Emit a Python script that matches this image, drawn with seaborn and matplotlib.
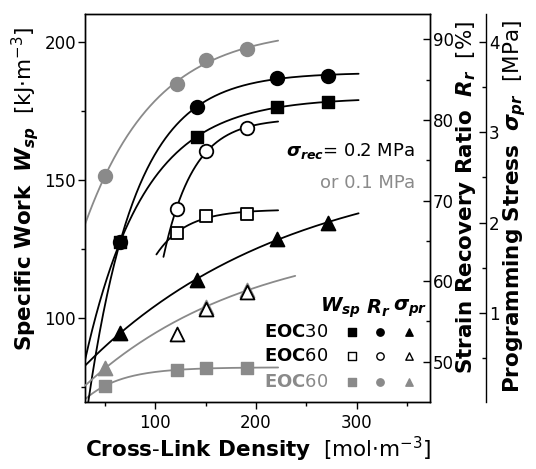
import numpy as np
import matplotlib
matplotlib.use("Agg")
import matplotlib.pyplot as plt
import seaborn as sns

# ---------------- data ----------------
# Specific work W_sp [kJ m^-3]
wsp30_x = [65, 141, 221, 272]
wsp30_y = [127.8, 165.7, 176.7, 178.3]
wsp60_x = [121, 150, 191]
wsp60_y = [130.8, 137.2, 138.0]
wsp60g_x = [50, 121, 150, 191]
wsp60g_y = [75.6, 81.3, 81.9, 82.1]
# Strain recovery ratio R_r [%]
rr30_x = [65, 141, 221, 272]
rr30_y = [64.9, 81.6, 85.2, 85.5]
rr60_x = [121, 150, 191]
rr60_y = [69.0, 76.1, 79.0]
rr60g_x = [50, 121, 150, 191]
rr60g_y = [73.1, 84.5, 87.4, 88.8]
# Programming stress sigma_pr [MPa]
sp30_x = [65, 141, 221, 272]
sp30_y = [0.78, 1.37, 1.82, 2.00]
sp60_x = [121, 150, 191]
sp60_y = [0.77, 1.05, 1.23]
sp60g_x = [50, 150, 191]
sp60g_y = [0.39, 1.07, 1.25]

x_major = [100, 200, 300]
w_major = [100, 150, 200]
r_major = [50, 60, 70, 80, 90]
s_major = [1, 2, 3, 4]

GRAY = "#8a8a8a"

# ---------------- style ----------------
sns.set_theme(style="ticks", rc={
    "axes.edgecolor": "black", "text.color": "black", "xtick.color": "black",
    "ytick.color": "black", "axes.labelcolor": "black", "axes.linewidth": 1.0,
})
plt.rcParams["font.family"] = ["DejaVu Sans"]
plt.rcParams["mathtext.fontset"] = "custom"
plt.rcParams["mathtext.rm"] = "DejaVu Sans"
plt.rcParams["mathtext.it"] = "DejaVu Sans:italic:bold"
plt.rcParams["mathtext.bf"] = "DejaVu Sans:bold"


def sat_fit(x, y, cmin=30):
    x = np.asarray(x, float)
    y = np.asarray(y, float)
    best = None
    for c in np.geomspace(cmin, 3000, 500):
        A = np.column_stack([np.ones_like(x), np.exp(-x / c)])
        coef, *_ = np.linalg.lstsq(A, y, rcond=None)
        err = np.sum((A @ coef - y) ** 2)
        if best is None or err < best[0]:
            best = (err, c, coef)
    _, c, (a, b) = best
    return lambda t: a + b * np.exp(-t / c)


W, H = 536, 469
L, R, T, B = 85, 430, 14, 402
fig = plt.figure(figsize=(W / 100, H / 100), dpi=100)
ax = fig.add_axes([L / W, 1 - B / H, (R - L) / W, (B - T) / H])
ax2 = ax.twinx()
ax3 = ax.twinx()
ax3.spines["right"].set_position(("axes", (486 - L) / (R - L)))
for s in ["top", "bottom", "left"]:
    ax3.spines[s].set_visible(False)

ax.set_xlim(30, 373)
ax.set_ylim(69.7, 210.3)
ax2.set_ylim(45.0, 93.14)
ax3.set_ylim(0.017, 4.305)


def curve(axis, xs, ys, x0, x1, color, cmin=30):
    f = sat_fit(xs, ys, cmin)
    xx = np.linspace(x0, x1, 300)
    sns.lineplot(x=xx, y=f(xx), ax=axis, color=color, lw=1.3, zorder=2)


def pts(axis, xs, ys, marker, size, face, edge):
    sns.scatterplot(x=xs, y=ys, ax=axis, marker=marker, s=size, color=face,
                    edgecolor=edge, linewidth=1.3, zorder=4)


# fit curves
curve(ax, wsp30_x, wsp30_y, 30, 302, "black")
curve(ax, wsp60_x, wsp60_y, 101, 222, "black")
curve(ax, wsp60g_x, wsp60g_y, 30, 222, GRAY)
curve(ax2, rr30_x, rr30_y, 30, 302, "black")
curve(ax2, rr60_x, rr60_y, 108, 222, "black")
curve(ax2, rr60g_x, rr60g_y, 30, 222, GRAY, cmin=20)
curve(ax3, sp30_x, sp30_y, 30, 302, "black")
curve(ax3, sp60g_x, sp60g_y, 30, 239, GRAY)

# markers: circles on the R_r axis
pts(ax2, rr60g_x, rr60g_y, "o", 95, GRAY, GRAY)
pts(ax2, rr30_x, rr30_y, "o", 95, "black", "black")
pts(ax2, rr60_x, rr60_y, "o", 95, "white", "black")
# triangles on the sigma axis
pts(ax3, sp60g_x, sp60g_y, "^", 100, GRAY, GRAY)
pts(ax3, sp30_x, sp30_y, "^", 100, "black", "black")
pts(ax3, sp60_x, sp60_y, "^", 100, "white", "black")
# squares (W_sp scale) drawn on the top axes so they cover the circles
ax3.scatter(wsp30_x, wsp30_y, marker="s", s=80, color="black", zorder=5,
            transform=ax.transData)
ax3.scatter(wsp60_x, wsp60_y, marker="s", s=80, facecolor="white", edgecolor="black",
            linewidth=1.3, zorder=5, transform=ax.transData)
ax3.scatter(wsp60g_x, wsp60g_y, marker="s", s=80, color=GRAY, zorder=5,
            transform=ax.transData)

# ticks
ax.set_xticks(x_major)
ax.set_xticks([50, 150, 250, 350], minor=True)
ax.set_yticks(w_major)
ax.set_yticks([75, 125, 175], minor=True)
ax.tick_params(which="major", direction="out", length=5, width=1, labelsize=12)
ax.tick_params(which="minor", direction="out", length=3, width=1)
ax.tick_params(axis="y", which="major", pad=1.5)
ax.tick_params(axis="x", which="major", pad=4)

ax2.set_yticks(r_major)
ax2.set_yticks([55, 65, 75, 85], minor=True)
ax2.tick_params(axis="y", which="major", direction="in", length=5, width=1, labelsize=12, pad=2)
ax2.tick_params(axis="y", which="minor", direction="in", length=3, width=1)

ax3.set_yticks(s_major)
ax3.set_yticks([0.5, 1.5, 2.5, 3.5], minor=True)
ax3.tick_params(axis="y", which="major", direction="in", length=5, width=1, labelsize=12, pad=2)
ax3.tick_params(axis="y", which="minor", direction="in", length=3, width=1)

for a in (ax, ax2, ax3):
    a.set_xlabel("")
    a.set_ylabel("")

# axis labels
fs = 15.5
fig.text(258 / W, 1 - 449 / H,
         r"$\mathbf{Cross}$-$\mathbf{Link\ Density}$  [mol$\cdot$m$^{-3}$]",
         ha="center", va="center", fontsize=fs)
fig.text(25 / W, 1 - 189 / H,
         r"$\mathbf{Specific\ Work}$  $W_{sp}$  [kJ$\cdot$m$^{-3}$]",
         ha="center", va="center", rotation=90, fontsize=fs)
fig.text(466 / W, 1 - 197 / H,
         r"$\mathbf{Strain\ Recovery\ Ratio}$  $R_r$  [%]",
         ha="center", va="center", rotation=90, fontsize=fs)
fig.text(515 / W, 1 - 206 / H,
         r"$\mathbf{Programming\ Stress}$  $\sigma_{pr}$  [MPa]",
         ha="center", va="center", rotation=90, fontsize=fs)

# annotation
tx = ax.get_xaxis_transform()
ax3.text(358, (B - 151) / (B - T), r"$\sigma_{rec}$= 0.2 MPa", transform=tx,
         ha="right", va="center", fontsize=13, zorder=6)
ax3.text(358, (B - 183) / (B - T), "or 0.1 MPa", transform=tx, color=GRAY,
         ha="right", va="center", fontsize=13, zorder=6)


# legend table
def fy(py):
    return (B - py) / (B - T)


for xh, s in zip([284, 321.5, 353], [r"$W_{sp}$", r"$R_r$", r"$\sigma_{pr}$"]):
    ax3.text(xh, fy(308), s, transform=tx, ha="center", va="center", fontsize=14, zorder=6)
rows = [(332, "black", r"$\mathbf{EOC}$30"), (356, "black", r"$\mathbf{EOC}$60"),
        (382, GRAY, r"$\mathbf{EOC}$60")]
cols = [295.5, 323.6, 351.8]
styles = [
    [("s", "black", "black"), ("o", "black", "black"), ("^", "black", "black")],
    [("s", "white", "black"), ("o", "white", "black"), ("^", "white", "black")],
    [("s", GRAY, GRAY), ("o", GRAY, GRAY), ("^", GRAY, GRAY)],
]
for (py, col, lab), st in zip(rows, styles):
    ax3.text(272, fy(py), lab, transform=tx, ha="right", va="center", fontsize=13,
             color=col, zorder=6)
    for cx, (m, fc, ec) in zip(cols, st):
        ax3.scatter([cx], [fy(py)], marker=m, s=28, facecolor=fc, edgecolor=ec,
                    linewidth=1.0, transform=tx, zorder=6, clip_on=False)

fig.savefig("out.png", dpi=100)
